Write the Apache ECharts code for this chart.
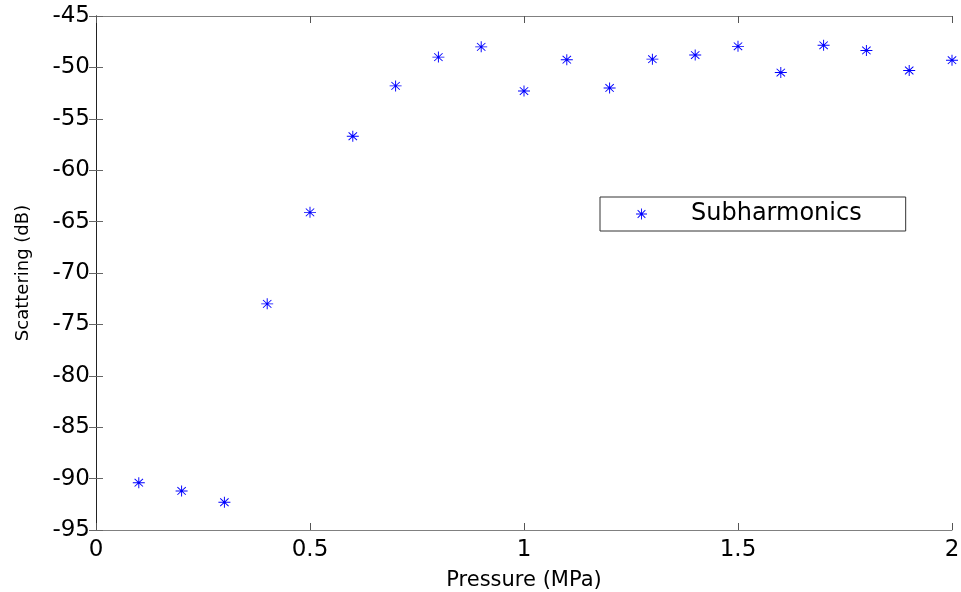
<!DOCTYPE html>
<html>
<head>
<meta charset="utf-8">
<script src="https://cdn.jsdelivr.net/npm/echarts@6/dist/echarts.min.js"></script>
<style>html,body{margin:0;padding:0;background:#fff}#c{width:961px;height:592px}</style>
</head>
<body>
<div id="c"></div>
<script>
const pressure = [0.1,0.2,0.3,0.4,0.5,0.6,0.7,0.8,0.9,1.0,1.1,1.2,1.3,1.4,1.5,1.6,1.7,1.8,1.9,2.0];
const subharmonics = [-90.4,-91.2,-92.3,-73.0,-64.1,-56.7,-51.8,-49.0,-48.0,-52.3,-49.25,-52.0,-49.2,-48.8,-47.95,-50.5,-47.85,-48.35,-50.3,-49.3];
const seriesName = 'Subharmonics';
const xName = 'Pressure (MPa)';
const yName = 'Scattering (dB)';

const star = 'path://M46 0L54 0L54 100L46 100Z M0 46L100 46L100 54L0 54Z M17.8 12.2L87.8 82.2L82.2 87.8L12.2 17.8Z M82.2 12.2L87.8 17.8L17.8 87.8L12.2 82.2Z';
const font = 'DejaVu Sans';
const chart = echarts.init(document.getElementById('c'), null, {renderer:'canvas'});
const axisLineGray = {show:true, lineStyle:{color:'#808080', width:1}};
chart.setOption({
  backgroundColor:'#ffffff',
  animation:false,
  grid:{left:96, right:9, top:16, bottom:62, containLabel:false, outerBoundsMode:'none'},
  legend:{
    show:true, left:600, top:197,
    data:[{name:seriesName, icon:star}],
    itemWidth:13, itemHeight:11,
    padding:[5,44,5,36],
    borderColor:'#333', borderWidth:1, borderRadius:0,
    backgroundColor:'#fff',
    textStyle:{fontFamily:font, fontSize:24, color:'#000', padding:[0,0,0,38]}
  },
  xAxis:[{
    type:'value', min:0, max:2, interval:0.5, position:'bottom',
    name:xName, nameLocation:'middle', nameGap:40,
    nameTextStyle:{fontFamily:font, fontSize:21, color:'#000'},
    axisLine:axisLineGray,
    axisTick:{show:true, inside:true, length:7, lineStyle:{color:'#555'}},
    axisLabel:{fontFamily:font, fontSize:23, color:'#000', margin:9},
    splitLine:{show:false}
  },{
    type:'value', min:0, max:2, interval:0.5, position:'top',
    axisLine:axisLineGray,
    axisTick:{show:true, inside:true, length:7, lineStyle:{color:'#555'}},
    axisLabel:{show:false}, splitLine:{show:false}
  }],
  yAxis:[{
    type:'value', min:-95, max:-45, interval:5, position:'left',
    name:yName, nameLocation:'middle', nameGap:64, nameRotate:90,
    nameTextStyle:{fontFamily:font, fontSize:18, color:'#000'},
    axisLine:axisLineGray,
    axisTick:{show:true, inside:true, length:7, lineStyle:{color:'#666'}},
    axisLabel:{fontFamily:font, fontSize:23, color:'#000', margin:6},
    splitLine:{show:false}
  },{
    type:'value', min:-95, max:-45, interval:5, position:'right',
    axisLine:{show:true, lineStyle:{color:'#222', width:1}},
    axisTick:{show:true, inside:true, length:7, lineStyle:{color:'#666'}},
    axisLabel:{show:false}, splitLine:{show:false}
  }],
  series:[{
    name:seriesName, type:'scatter', xAxisIndex:0, yAxisIndex:0,
    symbol:star, symbolSize:[12,11], symbolKeepAspect:false,
    itemStyle:{color:'#0000ff', opacity:1},
    data: pressure.map((p,i)=>[p, subharmonics[i]])
  }]
});
</script>
</body>
</html>
